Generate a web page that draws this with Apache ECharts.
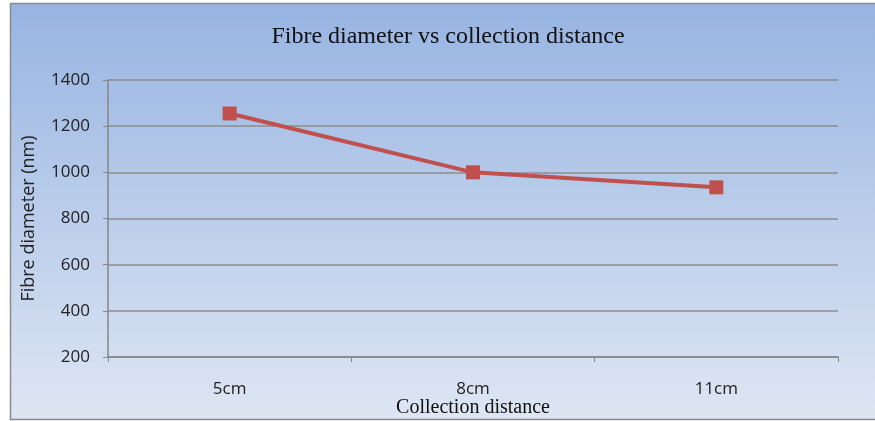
<!DOCTYPE html>
<html><head><meta charset="utf-8">
<script src="https://cdn.jsdelivr.net/npm/echarts@6/dist/echarts.min.js"></script>
<style>html,body{margin:0;padding:0;background:#fff}#c{width:875px;height:421px}</style>
</head><body><div id="c"></div>
<script>
const categories = ['5cm', '8cm', '11cm'];
const fibreDiameter = [1255, 1000, 935];
const yTicks = [200, 400, 600, 800, 1000, 1200, 1400];

const chart = echarts.init(document.getElementById('c'), null, {renderer: 'canvas'});
chart.setOption({
  backgroundColor: '#ffffff',
  animation: false,
  graphic: [{
    type: 'rect', z: -10, silent: true,
    shape: {x: 10.5, y: 3.5, width: 880, height: 416},
    style: {
      fill: new echarts.graphic.LinearGradient(0, 0, 0, 1, [
        {offset: 0, color: '#97B4E2'},
        {offset: 1, color: '#DEE6F3'}
      ]),
      stroke: '#8A8A8A', lineWidth: 1.5
    }
  }],
  title: {
    text: 'Fibre diameter vs collection distance',
    left: 443, top: 20, textAlign: 'center',
    textStyle: {fontFamily: 'Liberation Serif', fontSize: 24, fontWeight: 'normal', color: '#111'}
  },
  grid: {left: 108, right: 37, top: 80, bottom: 64, containLabel: false, outerBoundsMode: 'none'},
  xAxis: {
    type: 'category', data: categories, boundaryGap: true,
    name: 'Collection distance', nameLocation: 'middle', nameGap: 41, nameMoveOverlap: false,
    nameTextStyle: {fontFamily: 'Liberation Serif', fontSize: 20, color: '#111'},
    axisLine: {lineStyle: {color: '#868686', width: 1.5}},
    axisTick: {show: true, length: 5, lineStyle: {color: '#868686'}},
    axisLabel: {fontFamily: 'Open Sans', fontSize: 17, color: '#222', margin: 24}
  },
  yAxis: {
    type: 'value', min: yTicks[0], max: yTicks[yTicks.length - 1], interval: 200,
    name: 'Fibre diameter (nm)', nameLocation: 'middle', nameGap: 70, nameRotate: 90, nameMoveOverlap: false,
    nameTextStyle: {fontFamily: 'Open Sans', fontSize: 18, color: '#222'},
    axisLine: {show: true, lineStyle: {color: '#868686', width: 1.5}},
    axisTick: {show: true, length: 5, lineStyle: {color: '#868686'}},
    axisLabel: {fontFamily: 'Open Sans', fontSize: 17, color: '#222', margin: 18,
      formatter: function (v) { return String(v); }},
    splitLine: {lineStyle: {color: '#8C8C8C', width: 1.5}}
  },
  series: [{
    type: 'line', data: fibreDiameter,
    symbol: 'rect', symbolSize: 14,
    lineStyle: {color: '#C0504D', width: 4},
    itemStyle: {color: '#C0504D'}
  }]
});
</script></body></html>
